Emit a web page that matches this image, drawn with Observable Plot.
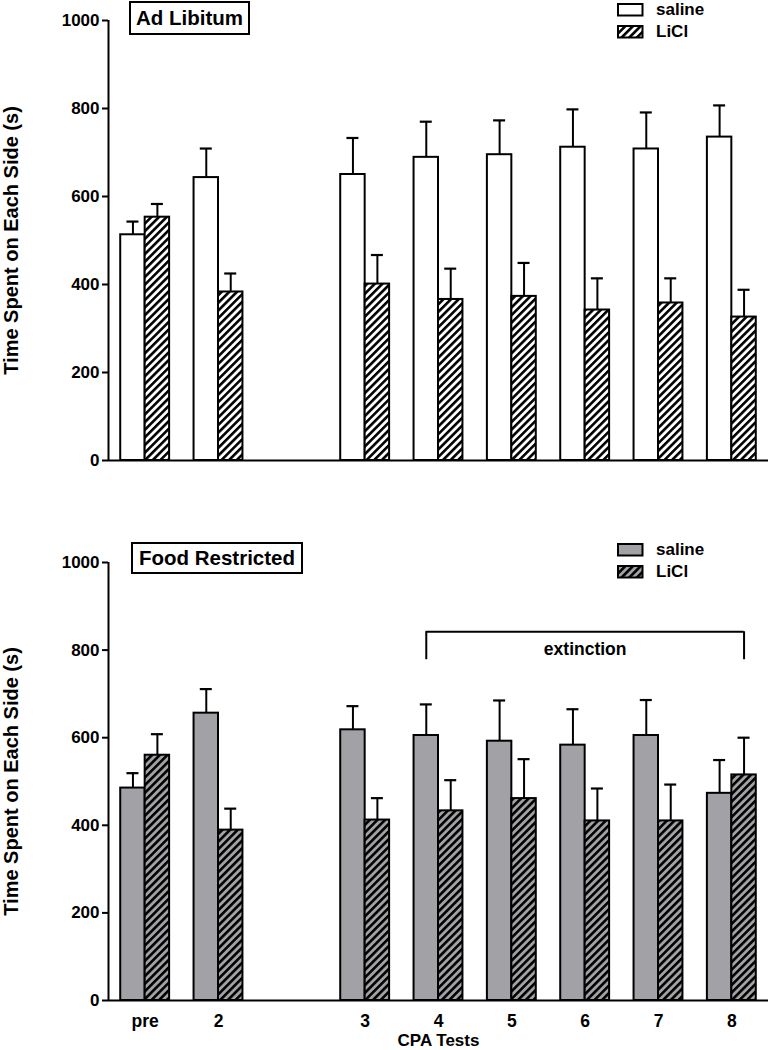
<!DOCTYPE html>
<html>
<head>
<meta charset="utf-8">
<script src="https://cdn.jsdelivr.net/npm/d3@7"></script>
<script src="https://cdn.jsdelivr.net/npm/@observablehq/plot@0.6"></script>
<style>
  body { margin: 0; background: #fff; font-family: "Liberation Sans", Arial, Helvetica, sans-serif; }
  #wrap { position: relative; width: 770px; height: 1050px; overflow: hidden; }
  .panel { position: absolute; left: 0; }
  .title { position: absolute; box-sizing: border-box; border: 2.5px solid #000; background: #fff;
           font-weight: bold; font-size: 20.5px; display: flex; align-items: center; justify-content: center; }
  .legtext { position: absolute; font-weight: bold; font-size: 17px; line-height: 17px; white-space: nowrap; }
  .sw { position: absolute; }
</style>
</head>
<body>
<svg width="0" height="0" style="position:absolute">
  <defs>
    <pattern id="hatchW" patternUnits="userSpaceOnUse" width="5.4" height="5.4" patternTransform="rotate(45)">
      <rect width="5.4" height="5.4" fill="#ffffff"></rect>
      <rect x="0" y="0" width="2.6" height="5.4" fill="#000000"></rect>
    </pattern>
    <pattern id="hatchG" patternUnits="userSpaceOnUse" width="5.4" height="5.4" patternTransform="rotate(45)">
      <rect width="5.4" height="5.4" fill="#a2a2a6"></rect>
      <rect x="0" y="0" width="2.6" height="5.4" fill="#000000"></rect>
    </pattern>
  </defs>
</svg>
<div id="wrap"></div>
<script>
// ---------- data ----------
const tests = ["pre", "2", "3", "4", "5", "6", "7", "8"];
const slots = [0, 1, 3, 4, 5, 6, 7, 8];           // group position on the x axis (gap after test 2)
const xDomain = [-0.5, 8.5];
const yTicks = [0, 200, 400, 600, 800, 1000];
const series = ["saline", "LiCl"];

// Ad Libitum panel
const adLibSaline    = [513, 643, 650, 689, 695, 712, 708, 735];
const adLibSalineSem = [30, 66, 83, 81, 78, 86, 83, 72];
const adLibLiCl      = [553, 383, 401, 366, 373, 342, 358, 326];
const adLibLiClSem   = [30, 42, 66, 70, 76, 72, 56, 62];

// Food Restricted panel
const frSaline    = [485, 656, 618, 605, 592, 583, 605, 473];
const frSalineSem = [34, 55, 54, 71, 93, 82, 81, 76];
const frLiCl      = [560, 389, 412, 433, 461, 410, 410, 515];
const frLiClSem   = [48, 49, 50, 70, 90, 74, 83, 85];

const panelTitles = ["Ad Libitum", "Food Restricted"];
const yLabel = "Time Spent on Each Side (s)";
const xLabel = "CPA Tests";
const extinction = { label: "extinction", from: "4", to: "8", top: 842, bottom: 778 };

// ---------- helpers ----------
const FONT = "'Liberation Sans', Arial, Helvetica, sans-serif";
function rows(means, sems, s) {
  return tests.map((t, i) => ({
    test: t, slot: slots[i], series: s, mean: means[i], sem: sems[i],
    center: s === "saline" ? slots[i] - 1 / 6 : slots[i] + 1 / 6
  }));
}

function panel({ sal, lic, salFill, licFill, height, marginTop, marginBottom, bottomAxis }) {
  const all = sal.concat(lic);
  const marks = [
    Plot.rect(sal, { x1: d => d.slot - 1 / 3, x2: d => d.slot, y1: 0, y2: "mean", fill: salFill, stroke: "#000", strokeWidth: 2 }),
    Plot.rect(lic, { x1: d => d.slot, x2: d => d.slot + 1 / 3, y1: 0, y2: "mean", fill: licFill, stroke: "#000", strokeWidth: 2 }),
    Plot.ruleX(all, { x: "center", y1: "mean", y2: d => d.mean + d.sem, stroke: "#000", strokeWidth: 2 }),
    Plot.ruleY(all, { y: d => d.mean + d.sem, x1: "center", x2: "center", insetLeft: -6, insetRight: -6, stroke: "#000", strokeWidth: 2.2 }),
    Plot.ruleY([0], { stroke: "#000", strokeWidth: 2 }),
    Plot.ruleX([xDomain[0]], { stroke: "#000", strokeWidth: 2 }),
    Plot.axisY({ ticks: yTicks, tickFormat: d => String(d), tickSize: 6, tickPadding: 3, strokeWidth: 2, fontSize: 17, fontWeight: "bold", label: null }),
    Plot.text([yLabel], { frameAnchor: "left", text: d => d, rotate: -90, dx: -97, textAnchor: "middle", fontSize: 20, fontWeight: "bold" })
  ];
  if (bottomAxis) {
    const fx = slots[tests.indexOf(extinction.from)] - 1 / 6;
    const tx = slots[tests.indexOf(extinction.to)] + 1 / 6;
    marks.push(
      Plot.axisX({ ticks: slots, tickFormat: d => tests[slots.indexOf(d)], tickSize: 0, tickPadding: 14, fontSize: 17.5, fontWeight: "bold", label: null }),
      Plot.text([xLabel], { frameAnchor: "bottom", text: d => d, dy: 33.5, lineAnchor: "top", fontSize: 17, fontWeight: "bold" }),
      Plot.ruleY([extinction], { y: "top", x1: fx, x2: tx, stroke: "#000", strokeWidth: 2 }),
      Plot.ruleX([fx, tx], { x: d => d, y1: extinction.bottom, y2: extinction.top, stroke: "#000", strokeWidth: 2 }),
      Plot.text([extinction], { x: (fx + tx) / 2, y: "top", text: "label", dy: 18, fontSize: 17.5, fontWeight: "bold" })
    );
  }
  return Plot.plot({
    width: 770, height, marginLeft: 108, marginRight: 2, marginTop, marginBottom,
    x: { domain: xDomain, axis: null },
    y: { domain: [0, 1000] },
    style: { fontFamily: FONT, fontSize: "17px", background: "transparent", overflow: "visible", color: "#000" },
    marks
  });
}

const wrap = document.getElementById("wrap");

const p1 = panel({
  sal: rows(adLibSaline, adLibSalineSem, "saline"), lic: rows(adLibLiCl, adLibLiClSem, "LiCl"),
  salFill: "#ffffff", licFill: "url(#hatchW)", height: 470, marginTop: 20, marginBottom: 10, bottomAxis: false
});
p1.classList.add("panel"); p1.style.top = "0px";
wrap.appendChild(p1);

const p2 = panel({
  sal: rows(frSaline, frSalineSem, "saline"), lic: rows(frLiCl, frLiClSem, "LiCl"),
  salFill: "#a2a2a6", licFill: "url(#hatchG)", height: 580, marginTop: 92, marginBottom: 50, bottomAxis: true
});
p2.classList.add("panel"); p2.style.top = "470px";
wrap.appendChild(p2);

// ---------- titles ----------
function addTitle(text, left, top, w, h) {
  const d = document.createElement("div");
  d.className = "title";
  Object.assign(d.style, { left: left + "px", top: top + "px", width: w + "px", height: h + "px" });
  d.textContent = text;
  wrap.appendChild(d);
}
addTitle(panelTitles[0], 129, 1, 121, 34);
addTitle(panelTitles[1], 131, 542, 172, 32);

// ---------- legends ----------
function addLegend(top, fills) {
  series.forEach((s, i) => {
    const y = top + i * 22.5;
    const sw = document.createElementNS("http://www.w3.org/2000/svg", "svg");
    sw.setAttribute("width", 27); sw.setAttribute("height", 14);
    sw.setAttribute("class", "sw");
    sw.style.left = "617px"; sw.style.top = (y - 1) + "px";
    const r = document.createElementNS("http://www.w3.org/2000/svg", "rect");
    r.setAttribute("x", 1); r.setAttribute("y", 1); r.setAttribute("width", 24.5); r.setAttribute("height", 11.5);
    r.setAttribute("fill", fills[i]); r.setAttribute("stroke", "#000"); r.setAttribute("stroke-width", 2);
    sw.appendChild(r);
    wrap.appendChild(sw);
    const t = document.createElement("div");
    t.className = "legtext";
    t.style.left = "656px"; t.style.top = (y - 3) + "px";
    t.textContent = s;
    wrap.appendChild(t);
  });
}
addLegend(3.5, ["#ffffff", "url(#hatchW)"]);
addLegend(543.5, ["#a2a2a6", "url(#hatchG)"]);
</script>
</body>
</html>
